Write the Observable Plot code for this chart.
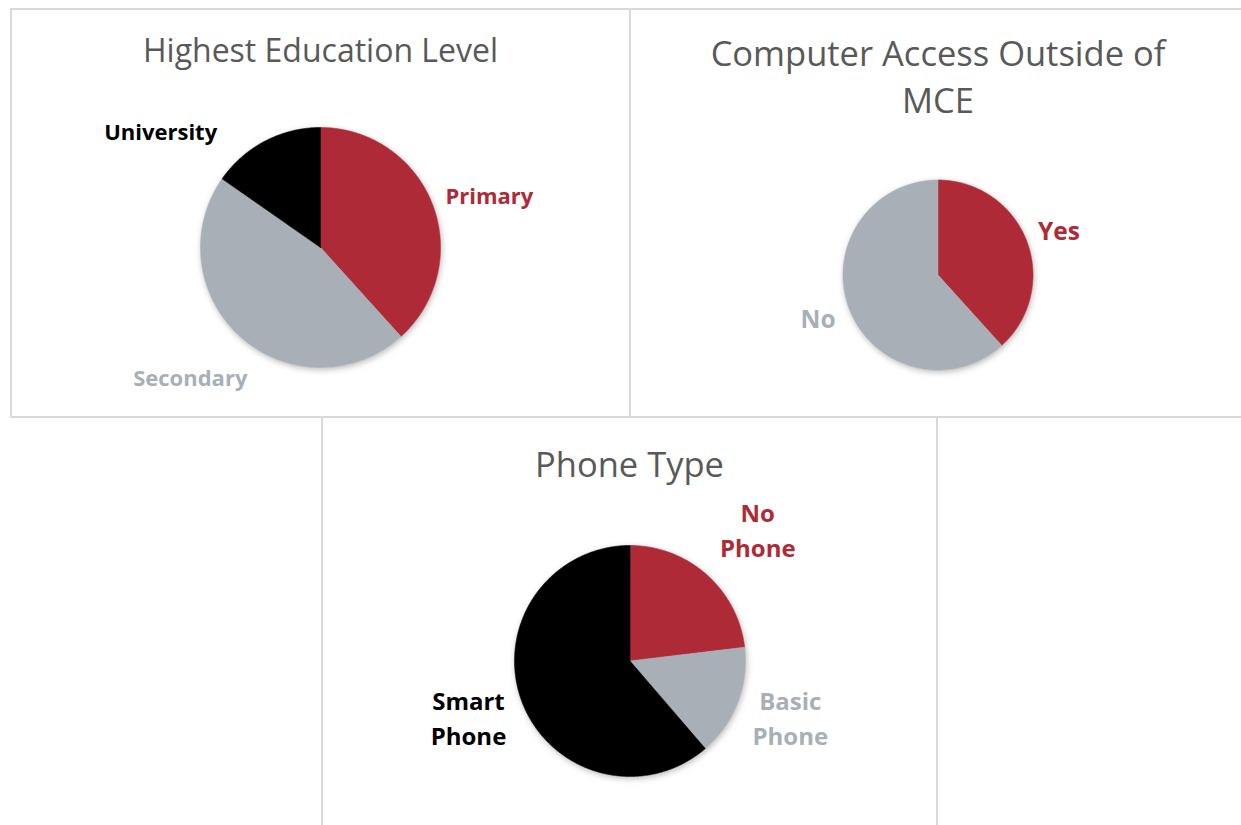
<!DOCTYPE html>
<html>
<head>
<meta charset="utf-8">
<script src="https://cdn.jsdelivr.net/npm/d3@7"></script>
<script src="https://cdn.jsdelivr.net/npm/@observablehq/plot@0.6"></script>
<style>
  html, body { margin: 0; padding: 0; background: #ffffff; }
  body { width: 1241px; height: 825px; overflow: hidden; position: relative; font-family: "Open Sans", sans-serif; }
  .panel { position: absolute; box-sizing: border-box; border: 2px solid #d9d9d9; background: #fff; }
  .title { position: absolute; left: 0; right: 0; text-align: center; color: #595959;
           font-family: "Open Sans", sans-serif; white-space: nowrap; }
  .panel svg { position: absolute; left: 0; top: 0; }
</style>
</head>
<body>
<script>
// ---------- data ----------
const eduLabels = ["Primary", "Secondary", "University"];
const eduValues = [38.3, 46.4, 15.3];

const accessLabels = ["Yes", "No"];
const accessValues = [38.3, 61.7];

const phoneLabels = ["No\nPhone", "Basic\nPhone", "Smart\nPhone"];
const phoneValues = [23.1, 15.6, 61.3];

// ---------- styles ----------
const RED = "#ad2a36", GRAY = "#a9afb7", BLACK = "#000000";
const eduColors = [RED, GRAY, BLACK];
const accessColors = [RED, GRAY];
const phoneColors = [RED, GRAY, BLACK];

// ---------- layout ----------
const charts = [
  { title: "Highest Education Level", labels: eduLabels, values: eduValues, colors: eduColors,
    left: 10, top: 8, w: 621, h: 410, titleSize: 32, titleLH: 49, titleBase: 51.7,
    cx: 308, cy: 237, r: 120, labelSize: 22, labelLH: 1.6,
    labelAt: [[73.2, 1.47], [224.8, 1.54], [305.7, 1.64]] },
  { title: "Computer Access Outside of<br>MCE", labels: accessLabels, values: accessValues, colors: accessColors,
    left: 629, top: 8, w: 618, h: 410, titleSize: 34.5, titleLH: 47.5, titleBase: 55.7,
    cx: 306.5, cy: 264.5, r: 95, labelSize: 24.5, labelLH: 1.45,
    labelAt: [[70.7, 1.35], [249.2, 1.35]] },
  { title: "Phone Type", labels: phoneLabels, values: phoneValues, colors: phoneColors,
    left: 321, top: 416, w: 617, h: 420, titleSize: 34.5, titleLH: 47.5, titleBase: 58.7,
    cx: 306.5, cy: 242.5, r: 115.5, labelSize: 24, labelLH: 1.46,
    labelAt: [[44.8, 1.57], [110.3, 1.48], [249.8, 1.49]] }
];

const rad = Math.PI / 180;

function makePie(c) {
  const panel = document.createElement("div");
  panel.className = "panel";
  Object.assign(panel.style, { left: c.left + "px", top: c.top + "px", width: c.w + "px", height: c.h + "px" });

  const arcs = d3.pie().sort(null).value(d => d)(c.values);
  const marks = [];

  // backing disc (carries the soft shadow)
  const disc = d3.range(0, 361).map(a => ({ x: Math.sin(a * rad), y: Math.cos(a * rad) }));
  marks.push(Plot.line(disc, { x: "x", y: "y", fill: "#ffffff", stroke: "none" }));

  arcs.forEach((a, i) => {
    const n = Math.max(2, Math.ceil((a.endAngle - a.startAngle) / (0.5 * rad)));
    const pts = [{ x: 0, y: 0 }];
    for (let k = 0; k <= n; k++) {
      const t = a.startAngle + (a.endAngle - a.startAngle) * k / n;
      pts.push({ x: Math.sin(t), y: Math.cos(t) });
    }
    pts.push({ x: 0, y: 0 });
    marks.push(Plot.line(pts, { x: "x", y: "y", fill: c.colors[i], stroke: c.colors[i], strokeWidth: 0.6 }));
  });

  c.labels.forEach((lab, i) => {
    const [ang, f] = c.labelAt[i];
    marks.push(Plot.text([{ x: Math.sin(ang * rad) * f, y: Math.cos(ang * rad) * f, label: lab }], {
      x: "x", y: "y", text: "label", fill: c.colors[i], fontSize: c.labelSize, fontWeight: "bold",
      fontFamily: "Open Sans", textAnchor: "middle", lineAnchor: "middle", lineHeight: c.labelLH, dy: -4
    }));
  });

  const svg = Plot.plot({
    width: c.w - 4, height: c.h - 4, margin: 0,
    x: { domain: [-1, 1], range: [c.cx - c.r, c.cx + c.r], axis: null },
    y: { domain: [-1, 1], range: [c.cy + c.r, c.cy - c.r], axis: null },
    style: { fontFamily: "Open Sans", background: "transparent", overflow: "visible" },
    marks
  });
  const first = svg.querySelector('g[aria-label="line"]');
  if (first) first.style.filter = "drop-shadow(1px 2px 3px rgba(0,0,0,0.28))";
  panel.appendChild(svg);

  const t = document.createElement("div");
  t.className = "title";
  const fs = c.titleSize, lh = c.titleLH;
  t.style.fontSize = fs + "px";
  t.style.lineHeight = lh + "px";
  t.style.top = (c.titleBase - ((lh - 1.362 * fs) / 2 + 1.069 * fs)) + "px";
  t.innerHTML = c.title;
  panel.appendChild(t);

  document.body.appendChild(panel);
}

charts.forEach(makePie);
</script>
</body>
</html>
